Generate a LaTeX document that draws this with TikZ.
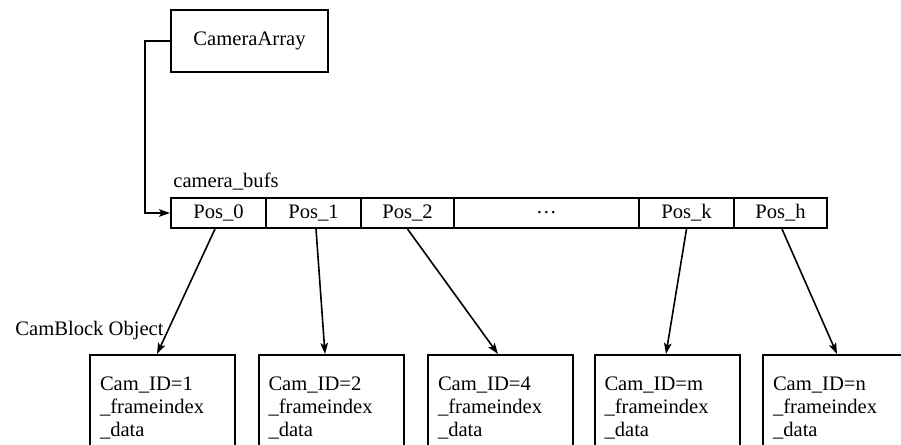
\documentclass[tikz,border=0pt]{standalone}
\usepackage{fontspec}
\setmainfont{Liberation Serif}
\usetikzlibrary{arrows.meta,calc}

\tikzset{
  box/.style={draw, line width=1pt, inner sep=0pt},
  cell/.style={draw, line width=1pt, inner sep=0pt, minimum height=15pt},
  camblock/.style={draw, line width=1pt, anchor=north, align=left,
    text width=62.5pt, inner xsep=5pt, inner ysep=11pt, text depth=30pt},
  link/.style={line width=0.8pt, -{Stealth[length=5.5pt,width=3.8pt,inset=1.2pt]}},
  lbl/.style={inner sep=0pt, anchor=base west}
}

\begin{document}
\begin{tikzpicture}[x=0.5pt, y=-0.5pt,
  every node/.append style={font=\fontsize{10.3}{11.5}\selectfont}]
  \useasboundingbox (0,0) rectangle (901,445);
  \clip (0,0) rectangle (901,445);

  % top-level object
  \node[box, minimum width=78.5pt, minimum height=31pt] (ca) at (249.5,41) {CameraArray};

  % buffer array
  \node[lbl] (bufslbl) at (173,187) {camera\_bufs};
  \node[cell, minimum width=47.5pt] (p0) at (218.5,213) {Pos\_0};
  \node[cell, minimum width=47.5pt] (p1) at (313.5,213) {Pos\_1};
  \node[cell, minimum width=46.5pt] (p2) at (407.5,213) {Pos\_2};
  \node[cell, minimum width=92.5pt] (pd) at (546.5,213) {\ldots};
  \node[cell, minimum width=47.5pt] (pk) at (686.5,213) {Pos\_k};
  \node[cell, minimum width=46.5pt] (ph) at (780.5,213) {Pos\_h};

  \draw[link] (ca.west) -- ++(-25,0) |- (p0.west);

  % camera blocks
  \node[lbl] (cblbl) at (15,335) {CamBlock Object};
  \node[camblock] (c1) at (162.5,354) {Cam\_ID=1\\\_frameindex\\\_data};
  \node[camblock] (c2) at (331,354)   {Cam\_ID=2\\\_frameindex\\\_data};
  \node[camblock] (c3) at (500.5,354) {Cam\_ID=4\\\_frameindex\\\_data};
  \node[camblock] (c4) at (667,354)   {Cam\_ID=m\\\_frameindex\\\_data};
  \node[camblock] (c5) at (835.5,354) {Cam\_ID=n\\\_frameindex\\\_data};

  % slot pointers
  \draw[link] ($(p0.south)+(-3.5,0)$) -- ($(c1.north)+(-5.5,0)$);
  \draw[link] ($(p1.south)+(2.5,0)$)  -- ($(c2.north)+(-6,0)$);
  \draw[link] (p2.south) -- ($(c3.north)+(-2.5,0)$);
  \draw[link] (pk.south) -- ($(c4.north)+(-1,0)$);
  \draw[link] ($(ph.south)+(1.5,0)$)  -- ($(c5.north)+(1.5,0)$);
\end{tikzpicture}
\end{document}
